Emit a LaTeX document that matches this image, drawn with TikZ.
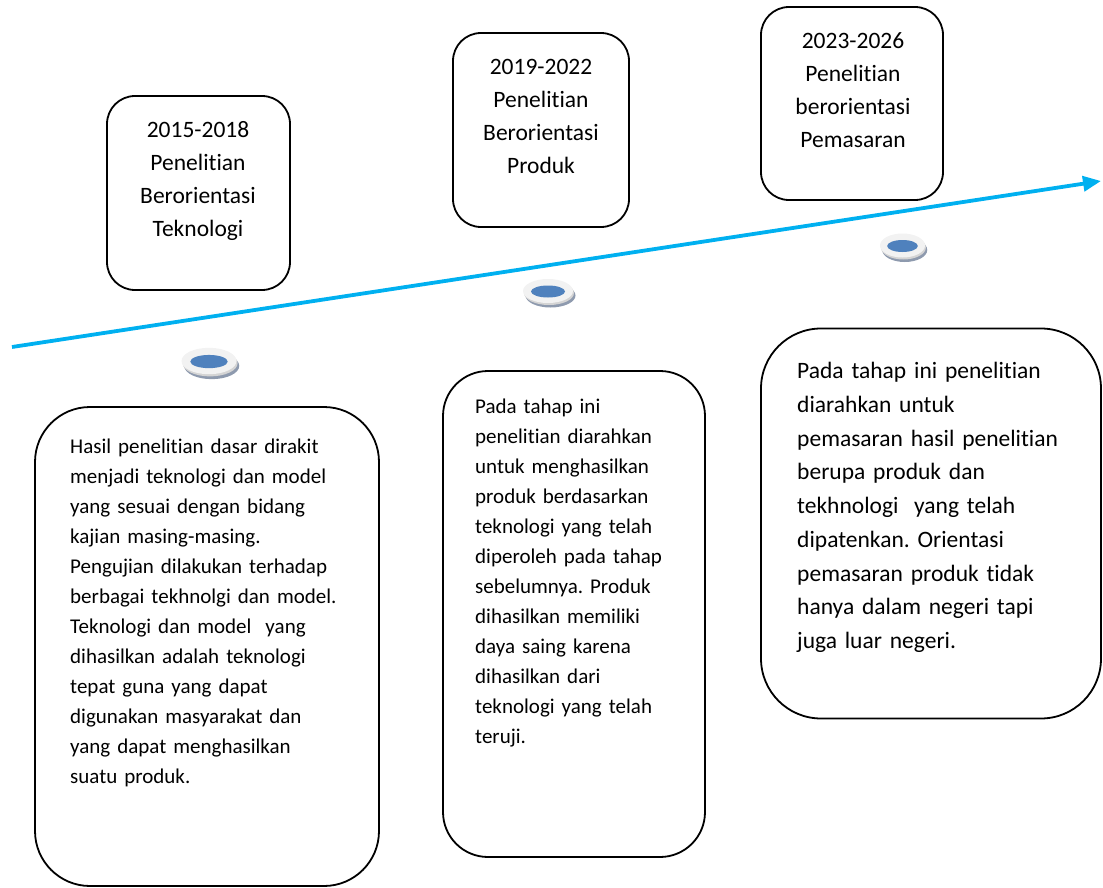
\documentclass[tikz,border=0pt]{standalone}
\usepackage{fontspec}
\setmainfont{Carlito}[Ligatures={NoCommon,NoContextual}]
\usetikzlibrary{arrows.meta}
\definecolor{tlblue}{HTML}{00B0F0}
\definecolor{discblue}{HTML}{4F81BD}
\definecolor{discshadow}{HTML}{8E9AAE}
\definecolor{discface}{HTML}{F2F2F2}
\definecolor{discband}{HTML}{D4D4D4}
\frenchspacing
\begin{document}
\begin{tikzpicture}[x=1pt,y=-1pt,
  boxnode/.style={draw=black,line width=1.8pt,rounded corners=#1,inner sep=0pt,fill=none},
  titletext/.style={anchor=base,align=center,text width=180pt,inner sep=0pt,
    font=\fontsize{23.5}{33}\selectfont},
  bodytext/.style={anchor=base west,align=left,text width=#1,inner sep=0pt,
    font=\fontsize{21}{30}\selectfont},
  bigbody/.style={anchor=base west,align=left,text width=300pt,inner sep=0pt,
    font=\fontsize{23.5}{33.75}\selectfont},
  timeline/.style={draw=tlblue,line width=3.8pt,-{Triangle[length=18pt,width=15pt]}},
  disc/.pic={
    \fill[discshadow] (2.5,4.5) ellipse [x radius=25pt,y radius=12pt];
    \fill[discband] (1,2) ellipse [x radius=25pt,y radius=12pt];
    \fill[discface] (0,0) ellipse [x radius=25pt,y radius=12pt];
    \fill[discblue] (0,0.5) ellipse [x radius=17pt,y radius=6pt];
  }]
\useasboundingbox (0,0) rectangle (1103,888);

% timeline arrow
\coordinate (tstart) at (12,347);
\coordinate (tend) at (1101,181);
\draw[timeline] (tstart) -- (tend);

% top boxes
\node[boxnode=28pt,minimum width=183pt,minimum height=194pt] (top1) at (198.5,193) {};
\node[boxnode=28pt,minimum width=176pt,minimum height=194pt] (top2) at (541,130) {};
\node[boxnode=28pt,minimum width=182pt,minimum height=193pt] (top3) at (852,103.5) {};

\node[titletext] (title1) at (198,137.5) {2015-2018\\Penelitian\\Berorientasi\\Teknologi};
\node[titletext] (title2) at (541,75) {2019-2022\\Penelitian\\Berorientasi\\Produk};
\node[titletext] (title3) at (853,48.5) {2023-2026\\Penelitian\\berorientasi\\Pemasaran};

% discs
\pic[xscale=1.1,yscale=1.1] at (209,361) {disc};
\pic at (548,291) {disc};
\pic[xscale=0.9,yscale=1.0] at (902.5,245.5) {disc};

% bottom boxes
\node[boxnode=55pt,minimum width=344pt,minimum height=479pt] (bot1) at (207,646.5) {};
\node[boxnode=45pt,minimum width=262pt,minimum height=486pt] (bot2) at (574,614) {};
\node[boxnode=60pt,minimum width=340pt,minimum height=390pt] (bot3) at (931,523.5) {};

\node[bodytext=300pt] (body1) at (70,453) {Hasil penelitian dasar dirakit\\
menjadi teknologi dan model\\
yang sesuai dengan bidang\\
kajian masing-masing.\\
Pengujian dilakukan terhadap\\
berbagai tekhnolgi dan model.\\
Teknologi dan model~ yang\\
dihasilkan adalah teknologi\\
tepat guna yang dapat\\
digunakan masyarakat dan\\
yang dapat menghasilkan\\
suatu produk.};

\node[bodytext=220pt] (body2) at (475,413.5) {Pada tahap ini\\
penelitian diarahkan\\
untuk menghasilkan\\
produk berdasarkan\\
teknologi yang telah\\
diperoleh pada tahap\\
sebelumnya. Produk\\
dihasilkan memiliki\\
daya saing karena\\
dihasilkan dari\\
teknologi yang telah\\
teruji.};

\node[bigbody] (body3) at (797,378.5) {Pada tahap ini penelitian\\
diarahkan untuk\\
pemasaran hasil penelitian\\
berupa produk dan\\
tekhnologi~ yang telah\\
dipatenkan. Orientasi\\
pemasaran produk tidak\\
hanya dalam negeri tapi\\
juga luar negeri.};
\end{tikzpicture}
\end{document}
